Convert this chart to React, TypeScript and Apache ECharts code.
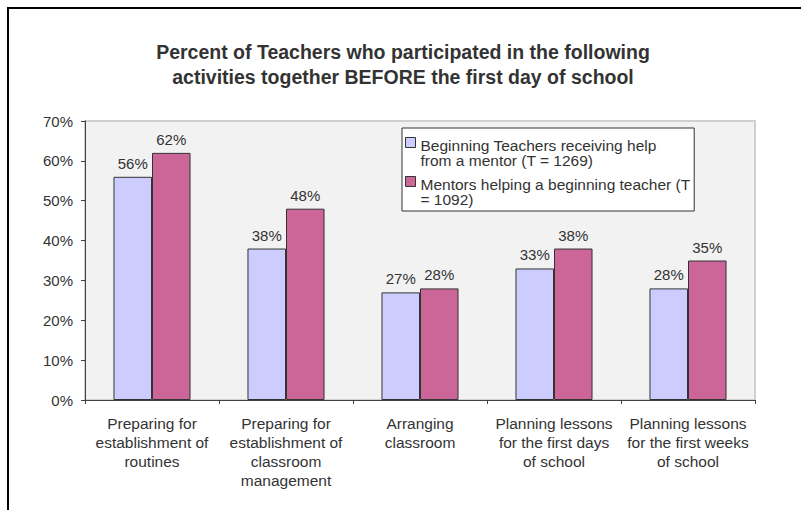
import React, { useEffect, useRef } from 'react';
import * as echarts from 'echarts';

const titleLines = [
  'Percent of Teachers who participated in the following',
  'activities together BEFORE the first day of school',
];
const categories = [
  'Preparing for\nestablishment of\nroutines',
  'Preparing for\nestablishment of\nclassroom\nmanagement',
  'Arranging\nclassroom',
  'Planning lessons\nfor the first days\nof school',
  'Planning lessons\nfor the first weeks\nof school',
];
const seriesNames = [
  'Beginning Teachers receiving help from a mentor (T = 1269)',
  'Mentors helping a beginning teacher (T = 1092)',
];
const legendLabels = [
  'Beginning Teachers receiving help\nfrom a mentor (T = 1269)',
  'Mentors helping a beginning teacher (T\n= 1092)',
];
const beginningTeachers = [56, 38, 27, 33, 28];
const mentors = [62, 48, 28, 38, 35];
const yMin = 0;
const yMax = 70;
const yInterval = 10;

const FONT = '"Liberation Sans", Arial, sans-serif';
const TEXT = '#333333';

export default function App() {
  const ref = useRef<HTMLDivElement>(null);
  useEffect(() => {
    if (!ref.current) return;
    const chart = echarts.init(ref.current, undefined, { renderer: 'svg' });
    const barStyle = (color: string) => ({ color, borderColor: '#333333', borderWidth: 1 });
    const labelStyle = {
      show: true,
      position: 'top',
      distance: 6,
      formatter: '{c}%',
      fontFamily: FONT,
      fontSize: 15,
      color: TEXT,
    };
    chart.setOption({
      animation: false,
      backgroundColor: '#ffffff',
      textStyle: { fontFamily: FONT },
      title: {
        text: titleLines.join('\n'),
        left: 403,
        top: 39,
        padding: 0,
        textAlign: 'center',
        textStyle: { fontFamily: FONT, fontSize: 19.5, fontWeight: 'bold', color: TEXT, lineHeight: 25 },
      },
      graphic: [
        {
          type: 'rect',
          silent: true,
          z: 100,
          shape: { x: 8, y: 8, width: 1000, height: 1000 },
          style: { fill: 'none', stroke: '#000000', lineWidth: 2 },
        },
      ],
      legend: {
        orient: 'vertical',
        left: 402,
        top: 128,
        padding: [9, 4, 3, 3],
        itemGap: 7,
        itemWidth: 10,
        itemHeight: 31,
        icon: 'path://M0,0L10,0L10,10L0,10Z M0,31',
        backgroundColor: '#ffffff',
        borderColor: '#333333',
        borderWidth: 1,
        itemStyle: { borderColor: '#333333', borderWidth: 1 },
        formatter: (name: string) => legendLabels[seriesNames.indexOf(name)] ?? name,
        textStyle: { fontFamily: FONT, fontSize: 15.5, lineHeight: 15.5, color: TEXT },
        data: seriesNames,
      },
      grid: {
        left: 85,
        right: 46,
        top: 121,
        bottom: 110,
        show: true,
        backgroundColor: '#f2f2f2',
        borderColor: '#d0d0d0',
        borderWidth: 2,
      },
      xAxis: {
        type: 'category',
        data: categories,
        axisLine: { lineStyle: { color: '#404040', width: 1 } },
        axisTick: { show: true, length: 4, lineStyle: { color: '#404040' } },
        axisLabel: {
          interval: 0,
          margin: 14,
          fontFamily: FONT,
          fontSize: 15.5,
          lineHeight: 19,
          color: TEXT,
        },
      },
      yAxis: {
        type: 'value',
        min: yMin,
        max: yMax,
        interval: yInterval,
        splitLine: { show: false },
        axisLine: { show: true, lineStyle: { color: '#404040', width: 1 } },
        axisTick: { show: true, length: 4, lineStyle: { color: '#404040' } },
        axisLabel: {
          formatter: '{value}%',
          margin: 12,
          fontFamily: FONT,
          fontSize: 15,
          color: TEXT,
        },
      },
      series: [
        {
          name: seriesNames[0],
          type: 'bar',
          data: beginningTeachers,
          barGap: '0%',
          barCategoryGap: '42.5%',
          itemStyle: barStyle('#ccccff'),
          label: labelStyle,
        },
        {
          name: seriesNames[1],
          type: 'bar',
          data: mentors,
          barGap: '0%',
          barCategoryGap: '42.5%',
          itemStyle: barStyle('#cc6699'),
          label: labelStyle,
        },
      ],
    });
    return () => chart.dispose();
  }, []);
  return (
    <div
      ref={ref}
      style={{ position: 'absolute', left: 0, top: 0, width: 801, height: 510 }}
    />
  );
}
